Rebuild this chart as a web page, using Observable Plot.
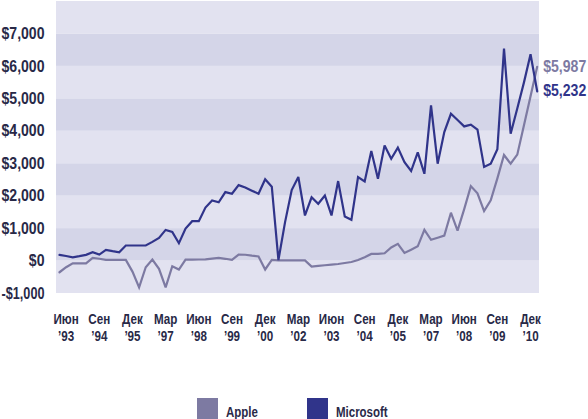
<!DOCTYPE html>
<html>
<head>
<meta charset="utf-8">
<script src="https://cdn.jsdelivr.net/npm/d3@7"></script>
<script src="https://cdn.jsdelivr.net/npm/@observablehq/plot@0.6"></script>
<style>
  html, body { margin: 0; padding: 0; background: #ffffff; }
  body { width: 588px; height: 419px; overflow: hidden; font-family: "Liberation Sans", Arial, sans-serif; }
  #legend { display: flex; justify-content: center; align-items: flex-start; height: 21px; margin-left: 8px; }
  .item { display: flex; align-items: flex-start; }
  .sw { width: 21px; height: 21px; margin-right: 8px; }
  .lab { display: inline-block; font-weight: bold; font-size: 14px; color: #2a2a48; line-height: 14px; padding-top: 7px; transform: scaleX(0.82); transform-origin: left center; white-space: nowrap; }
</style>
</head>
<body>
<div id="chart"></div>
<div id="legend"></div>
<script>
// Quarterly net income (millions USD), Mar 1993 .. Mar 2011
const microsoft = [190,155,115,150,190,270,200,345,305,270,480,480,480,480,590,715,960,900,550,1000,
  1230,1230,1650,1870,1810,2125,2075,2340,2270,2170,2075,2520,2290,30,1200,2190,2590,1405,1965,1765,
  2020,1405,2465,1375,1270,2590,2455,3390,2535,3565,3155,3495,3050,2775,3350,2690,4800,3000,3975,4540,
  4350,4150,4205,4050,2900,3000,3450,6550,3925,4700,5500,6375,5232];
const apple = [-345,-190,-70,-70,-70,100,70,35,35,35,35,-325,-810,-190,45,-240,-810,-160,-260,45,
  45,48,50,75,95,70,35,200,195,165,140,-260,35,20,20,20,20,20,-170,-150,
  -130,-110,-90,-60,-30,30,120,220,220,240,420,530,250,350,455,960,655,720,785,1490,
  940,1600,2310,2090,1540,1870,2550,3270,3000,3280,4180,5080,5987];
const seriesNames = ["Apple", "Microsoft"];
const seriesColors = ["#7d7aa2", "#30348a"];
const tickQuarterIndex = [1,6,11,16,21,26,31,36,41,46,51,56,61,66,71];
const tickLabels = ["Июн\n’93","Сен\n’94","Дек\n’95","Мар\n’97","Июн\n’98","Сен\n’99","Дек\n’00","Мар\n’02",
  "Июн\n’03","Сен\n’04","Дек\n’05","Мар\n’07","Июн\n’08","Сен\n’09","Дек\n’10"];
const yTicks = [-1000,0,1000,2000,3000,4000,5000,6000,7000];
const yTop = 8000;

const rows = [];
apple.forEach((v, i) => rows.push({i, v, s: "Apple"}));
microsoft.forEach((v, i) => rows.push({i, v, s: "Microsoft"}));
const lastRows = [
  {i: apple.length - 1, v: apple[apple.length - 1], s: "Apple"},
  {i: microsoft.length - 1, v: microsoft[microsoft.length - 1], s: "Microsoft"}
];
const bandEdges = yTicks.concat([yTop]);
const bands = bandEdges.slice(0, -1).map((lo, k) => ({lo, hi: bandEdges[k + 1], dark: (lo / 1000) % 2 === 0 && lo >= 0}));

const fmt = v => (v < 0 ? "-$" : "$") + d3.format(",")(Math.abs(v));
const textColor = "#282947";

const plot = Plot.plot({
  width: 588,
  height: 398,
  marginLeft: 56,
  marginRight: 49,
  marginTop: 1,
  marginBottom: 105,
  style: {fontFamily: '"Liberation Sans", Arial, sans-serif', background: "transparent"},
  x: {domain: [-0.45, 72.35], axis: null},
  y: {domain: [-1000, yTop], axis: null},
  color: {domain: seriesNames, range: seriesColors},
  marks: [
    Plot.rect(bands, {y1: "lo", y2: "hi", fill: d => d.dark ? "#d4d5e8" : "#e2e2f0"}),
    Plot.axisY(yTicks, {tickSize: 0, tickPadding: 12, tickFormat: fmt, fontSize: 16, fontWeight: "bold", fill: textColor, label: null}),
    Plot.axisX(tickQuarterIndex, {tickSize: 0, tickPadding: 18, lineAnchor: "top", lineHeight: 1.13,
      tickFormat: i => tickLabels[tickQuarterIndex.indexOf(i)], fontSize: 15.5, fontWeight: "bold", fill: textColor, label: null}),
    Plot.line(rows, {x: "i", y: "v", z: "s", stroke: "s", strokeWidth: 2.2, strokeLinejoin: "miter", strokeMiterlimit: 3}),
    Plot.text(lastRows, {x: "i", y: "v", text: d => fmt(d.v), fill: "s", textAnchor: "start", dx: 6, fontSize: 16, fontWeight: "bold"})
  ]
});
document.getElementById("chart").appendChild(plot);

// narrow the bold lettering horizontally, keeping each text's anchor point fixed
const squeeze = {"y-axis tick label": 0.88, "x-axis tick label": 0.75, "text": 0.88};
d3.select(plot).selectAll("text").each(function() {
  const g = this.closest("g[aria-label]");
  const role = g ? g.getAttribute("aria-label") : "";
  let s = squeeze[role] || 0.85;
  if (role === "y-axis tick label") {
    const len = this.getComputedTextLength();
    if (len > 0) s = Math.min(s, 43 / len);
  }
  const xa = parseFloat(this.getAttribute("x"));
  const x = Number.isFinite(xa) && !/em/.test(this.getAttribute("x") || "") ? xa : 0;
  const tr = this.getAttribute("transform") || "";
  this.setAttribute("transform", `${tr} translate(${x},0) scale(${s},1) translate(${-x},0)`);
});

const legend = document.getElementById("legend");
seriesNames.forEach((name, k) => {
  const item = document.createElement("div");
  item.className = "item";
  if (k > 0) item.style.marginLeft = "42px";
  const sw = document.createElement("div");
  sw.className = "sw";
  sw.style.background = seriesColors[k];
  const lab = document.createElement("div");
  lab.className = "lab";
  lab.textContent = name;
  item.appendChild(sw);
  item.appendChild(lab);
  legend.appendChild(item);
});
</script>
</body>
</html>
